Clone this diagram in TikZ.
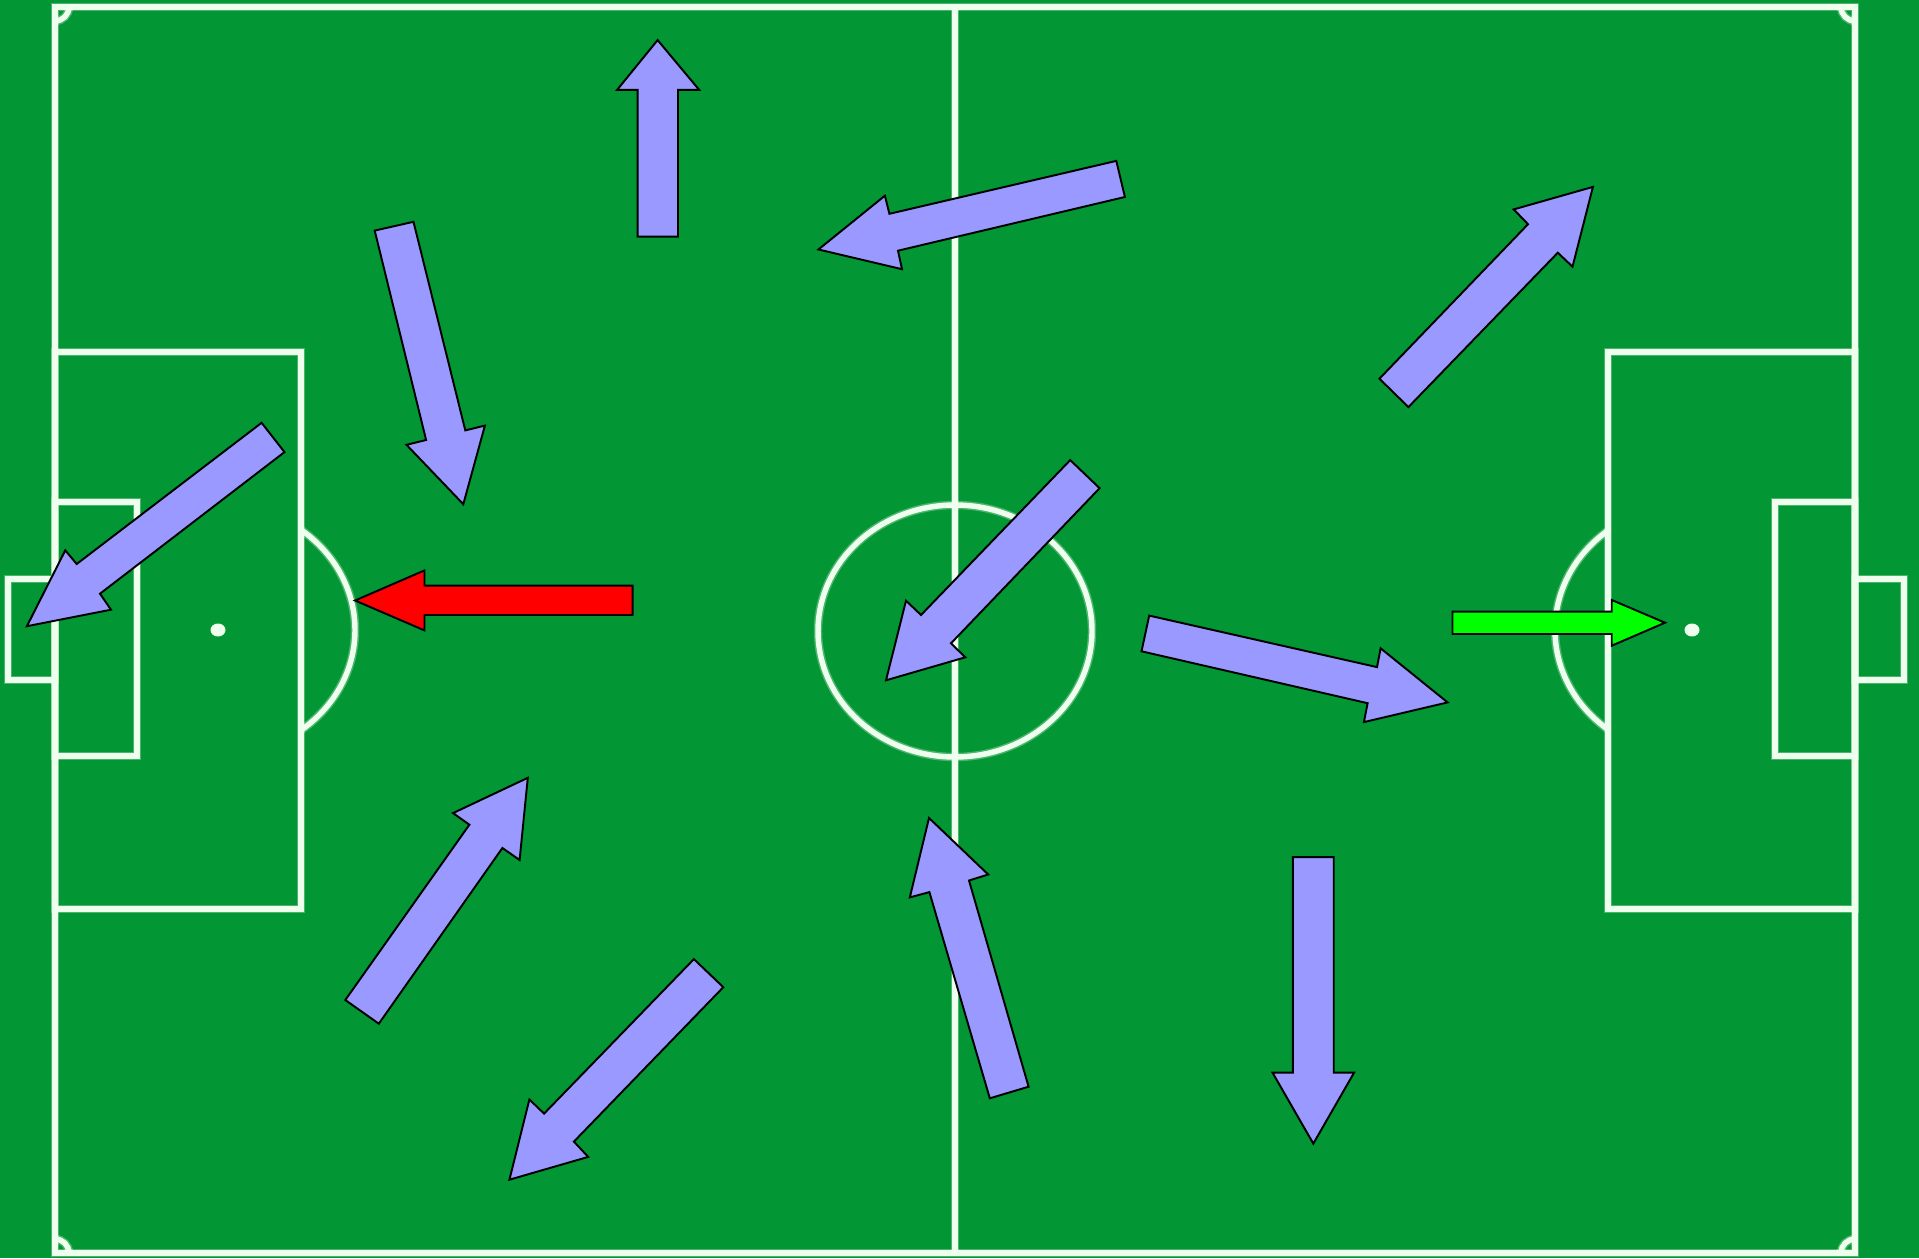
\documentclass[tikz,border=0pt]{standalone}
\definecolor{pitch}{RGB}{2,150,52}
\definecolor{chalk}{RGB}{238,255,238}
\definecolor{runblue}{RGB}{153,153,255}
\definecolor{redrun}{RGB}{255,0,0}
\definecolor{greenrun}{RGB}{0,255,0}
\tikzset{
  glow/.style={draw=chalk, draw opacity=0.3, line width=2.4pt},
  chalkline/.style={draw=chalk, line width=1.55pt},
  runarrow/.style={fill=runblue, draw=black, line width=0.55pt, line join=miter},
  redarrow/.style={runarrow, fill=redrun},
  greenarrow/.style={runarrow, fill=greenrun},
}
\begin{document}
\begin{tikzpicture}[x=0.01cm,y=-0.01cm]
\fill[pitch] (0,0) rectangle (1919,1258);
\useasboundingbox (0,0) rectangle (1919,1258);
% pitch markings (glow then line)
\foreach \st in {glow,chalkline}{
  \draw[\st] (55,7) rectangle (1855,1253);
  \draw[\st] (955,7) -- (955,1253);
  \draw[\st] (955,631) ellipse [x radius=137, y radius=126];
  \draw[\st] (55,352) rectangle (301,909);
  \draw[\st] (1855,352) rectangle (1608,909);
  \draw[\st] (55,502) rectangle (137,756);
  \draw[\st] (1855,502) rectangle (1775,756);
  \draw[\st] (55,579) rectangle (8,680);
  \draw[\st] (1855,579) rectangle (1904,680);
  \begin{scope}
    \clip (301,0) rectangle (700,1258);
    \draw[\st] (218,630) ellipse [x radius=137, y radius=126];
  \end{scope}
  \begin{scope}
    \clip (1200,0) rectangle (1608,1258);
    \draw[\st] (1692,630) ellipse [x radius=137, y radius=126];
  \end{scope}
  \begin{scope}
    \clip (55,7) rectangle (1855,1253);
    \draw[\st] (55,7) circle [radius=14];
    \draw[\st] (1855,7) circle [radius=14];
    \draw[\st] (55,1253) circle [radius=14];
    \draw[\st] (1855,1253) circle [radius=14];
  \end{scope}
}
\fill[chalk] (218,630) ellipse [x radius=7.5, y radius=6.5];
\fill[chalk] (1692,630) ellipse [x radius=7.5, y radius=6.5];
% runs
\draw[runarrow] (637.6,236.7) -- (637.6,89.9) -- (617.1,89.9) -- (657.6,40.1) -- (699.2,89.9) -- (678,89.9) -- (678,236.7) -- cycle;
\draw[runarrow] (1116.3,160.9) -- (889.4,213.8) -- (884.9,195.7) -- (818.4,249.5) -- (902,269.2) -- (898,250.7) -- (1124.9,197) -- cycle;
\draw[runarrow] (1379.4,378.7) -- (1528,224.2) -- (1513.7,209.4) -- (1592.9,186.9) -- (1572.5,266.7) -- (1557.8,252.7) -- (1408.4,407.1) -- cycle;
\draw[runarrow] (374.7,230.6) -- (426.1,440.0) -- (406.5,444.8) -- (463.3,504.2) -- (484.9,425.6) -- (465.3,430.4) -- (413.5,221.8) -- cycle;
\draw[runarrow] (261.6,422.8) -- (76.7,564) -- (65.3,550.3) -- (26.9,626.2) -- (111,609.7) -- (100,593.7) -- (284.5,452.1) -- cycle;
\draw[redarrow] (632.7,585.6) -- (424.5,585.6) -- (424.5,570.4) -- (355.1,600.5) -- (424.5,630.4) -- (424.5,615) -- (632.7,615) -- cycle;
\draw[runarrow] (1070.2,460.1) -- (921,615) -- (906,600.7) -- (886,680.3) -- (965.3,657.3) -- (951,643.3) -- (1099.6,488.2) -- cycle;
\draw[runarrow] (1149.2,615.6) -- (1377,667.1) -- (1380.6,648.3) -- (1447.6,702.4) -- (1363.9,722.1) -- (1367.6,703.2) -- (1141.5,651.3) -- cycle;
\draw[greenarrow] (1452.5,611.7) -- (1611.7,611.7) -- (1611.7,600) -- (1665,622.7) -- (1611.7,645.7) -- (1611.7,634) -- (1452.5,634) -- cycle;
\draw[runarrow] (345.3,1000) -- (469.4,824.7) -- (453,813.1) -- (527.8,777.8) -- (519.6,860) -- (502.4,848) -- (378.8,1023.7) -- cycle;
\draw[runarrow] (693.9,959.1) -- (544.1,1113.6) -- (529.4,1099.5) -- (509.4,1179.7) -- (588.2,1156.9) -- (573.9,1141.6) -- (723.3,987.2) -- cycle;
\draw[runarrow] (989.8,1098.3) -- (929.4,892.1) -- (909.8,897.4) -- (929,818) -- (988.2,874.5) -- (969,880.5) -- (1028.6,1086.7) -- cycle;
\draw[runarrow] (1292.9,857.2) -- (1292.9,1072.6) -- (1272.5,1072.6) -- (1313.3,1143.6) -- (1354.1,1072.6) -- (1333.7,1072.6) -- (1333.7,857.2) -- cycle;
\end{tikzpicture}
\end{document}
